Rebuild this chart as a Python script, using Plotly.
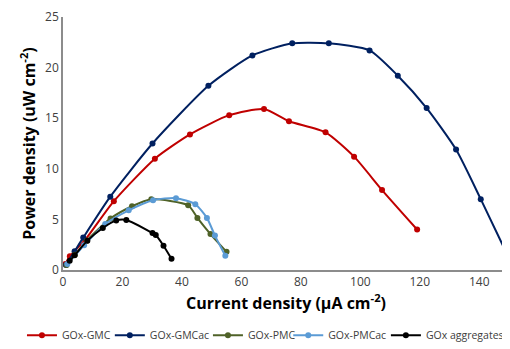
import plotly.graph_objects as go

names = ["GOx-GMC", "GOx-GMCac", "GOx-PMC", "GOx-PMCac", "GOx aggregates"]
colors = ["#C00000", "#002060", "#4F6228", "#5B9BD5", "#000000"]

gmc_x = [0.8, 2.3, 7.5, 17.1, 30.9, 42.7, 55.9, 67.6, 76.0, 88.3, 97.9, 107.3, 119.1]
gmc_y = [0.6, 1.35, 3.0, 6.8, 11.0, 13.4, 15.3, 15.9, 14.7, 13.6, 11.2, 7.9, 4.0]

gmcac_x = [1.0, 3.9, 6.8, 15.9, 30.1, 48.9, 63.7, 77.1, 89.4, 103.1, 112.6, 122.3, 132.2, 140.5, 149.6]
gmcac_y = [0.5, 1.85, 3.2, 7.25, 12.5, 18.2, 21.2, 22.4, 22.4, 21.7, 19.2, 16.0, 11.9, 7.0, 1.4]

pmc_x = [1.2, 4.0, 8.0, 16.0, 23.2, 29.7, 42.1, 45.2, 49.6, 55.0]
pmc_y = [0.5, 1.5, 2.9, 5.1, 6.3, 7.0, 6.4, 5.15, 3.55, 1.8]

pmcac_x = [1.45, 7.1, 14.2, 22.1, 30.3, 38.0, 44.5, 48.4, 51.1, 54.6]
pmcac_y = [0.6, 2.45, 4.55, 5.9, 6.9, 7.1, 6.5, 5.15, 3.4, 1.4]

agg_x = [2.25, 3.9, 8.2, 13.4, 17.9, 21.3, 30.1, 31.2, 33.8, 36.5]
agg_y = [0.92, 1.45, 2.9, 4.15, 4.9, 4.95, 3.65, 3.45, 2.4, 1.1]

xs = [gmc_x, gmcac_x, pmc_x, pmcac_x, agg_x]
ys = [gmc_y, gmcac_y, pmc_y, pmcac_y, agg_y]

x_ticks = [0, 20, 40, 60, 80, 100, 120, 140]
y_ticks = [0, 5, 10, 15, 20, 25]

legend_ids = ["legend", "legend2", "legend3", "legend4", "legend5"]
legend_x = [-0.092, 0.105, 0.325, 0.505, 0.724]

fig = go.Figure()
for n, c, x, y, lid in zip(names, colors, xs, ys, legend_ids):
    fig.add_trace(go.Scatter(
        x=x, y=y, name=n, mode="lines+markers", cliponaxis=False,
        line=dict(color=c, width=2, shape="spline", smoothing=0.6),
        marker=dict(color=c, size=6), legend=lid, showlegend=True,
    ))

font_family = "Open Sans, Liberation Sans, sans-serif"
legend_common = dict(orientation="h", y=-0.258, yanchor="middle",
                     font=dict(size=10.5, color="#404040"), itemwidth=30,
                     bgcolor="rgba(0,0,0,0)")
layout_legends = {lid: dict(x=lx, xanchor="left", **legend_common)
                  for lid, lx in zip(legend_ids, legend_x)}

fig.update_layout(
    width=510, height=349,
    margin=dict(l=55, r=9, t=9, b=87, autoexpand=False),
    plot_bgcolor="white", paper_bgcolor="white",
    font=dict(family=font_family, color="#404040", size=12),
    showlegend=True,
    xaxis=dict(range=[0, 150], tickvals=x_ticks, showgrid=False, zeroline=False,
               showline=True, linecolor="#8c8c8c", linewidth=1.5, ticks="",
               tickfont=dict(size=12, color="#404040"),
               title=dict(text="<b>Current density (µA cm<sup>-2</sup>)</b>",
                          font=dict(size=16, color="#000000"), standoff=8)),
    yaxis=dict(range=[0, 25], tickvals=y_ticks, showgrid=False, zeroline=False,
               showline=True, linecolor="#8c8c8c", linewidth=1.5, ticks="",
               tickfont=dict(size=12, color="#404040"),
               title=dict(text="<b>Power density (uW cm<sup>-2</sup>)</b>",
                          font=dict(size=16, color="#000000"), standoff=6)),
    **layout_legends,
)

fig.write_html("out.html")
